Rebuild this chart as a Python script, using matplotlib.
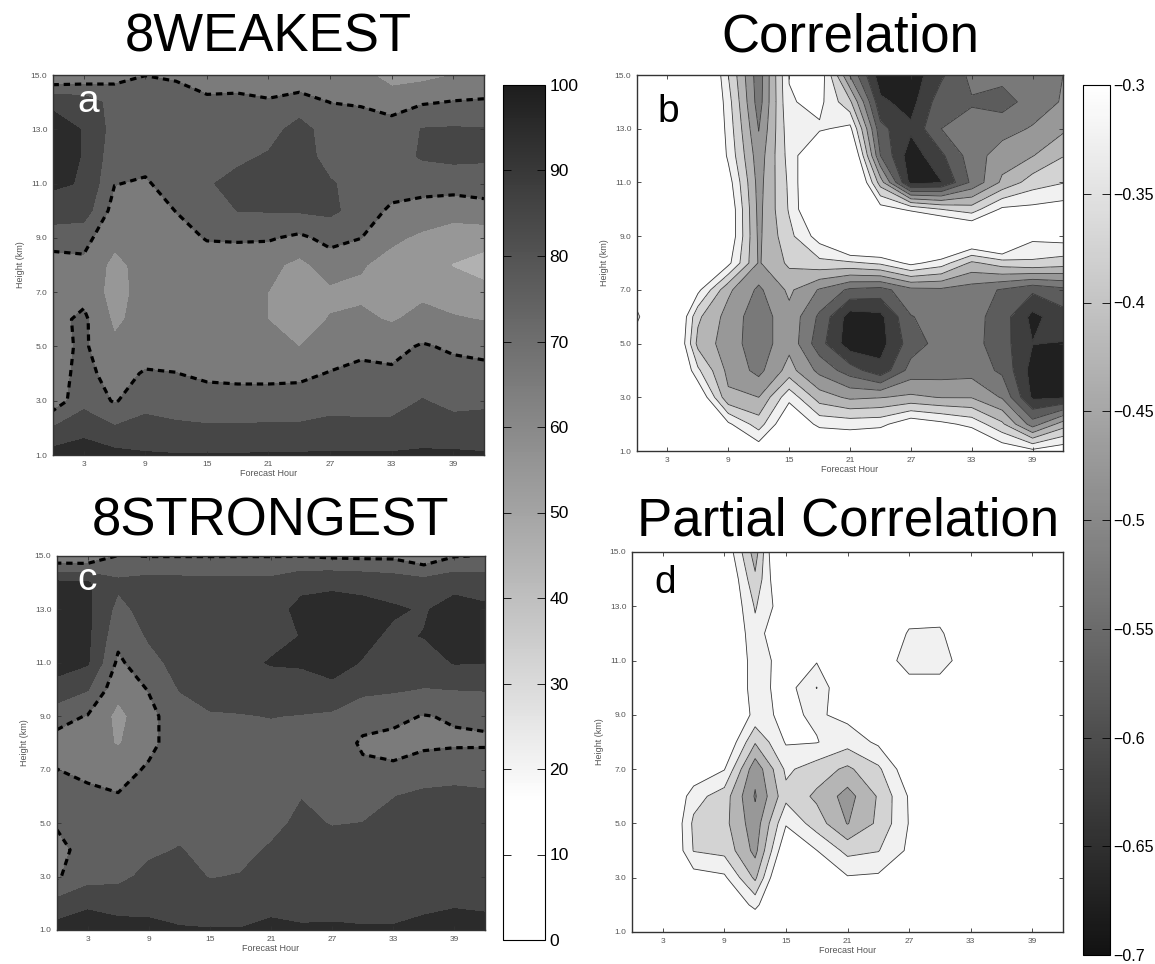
import numpy as np
import matplotlib
matplotlib.use('Agg')
import matplotlib.pyplot as plt
from matplotlib.colors import LinearSegmentedColormap, Normalize
from matplotlib.cm import ScalarMappable

plt.rcParams['font.family'] = ['Liberation Sans', 'DejaVu Sans']

# ---------------- data ----------------
hours = [0, 3, 6, 9, 12, 15, 18, 21, 24, 27, 30, 33, 36, 39, 42]
heights = [1, 2, 3, 4, 5, 6, 7, 8, 9, 10, 11, 12, 13, 14, 15]
x_ticks = [3, 9, 15, 21, 27, 33, 39]
y_ticks = [1, 3, 5, 7, 9, 11, 13, 15]
pct_ticks = [0, 10, 20, 30, 40, 50, 60, 70, 80, 90, 100]
cor_ticks = [-0.7, -0.65, -0.6, -0.55, -0.5, -0.45, -0.4, -0.35, -0.3]
titles = ["8WEAKEST", "Correlation", "8STRONGEST", "Partial Correlation"]
letters = ["a", "b", "c", "d"]

# one height profile (1..15 km) per forecast hour
weak_pct = [
    [94, 80.5, 64, 66, 67, 67, 66, 67, 73, 87, 91, 94, 94, 88, 60],
    [96, 86, 77, 73, 71.5, 72, 67, 68, 73, 85, 89.5, 89.5, 89.5, 86, 62],
    [93, 81, 69, 66, 62, 58, 56, 57, 63, 66, 70.3, 74, 76, 76, 67],
    [91, 83, 77, 71, 65, 64, 64, 64, 64, 66, 69, 73, 76, 78, 69.8],
    [90.5, 81.5, 76, 70.2, 66, 65, 64.5, 65, 67, 70.2, 74, 76, 77, 75, 68.5],
    [90.5, 81, 74.5, 68, 65, 64.5, 64.5, 66, 70.5, 74, 79, 77, 76, 72, 65],
    [90.5, 81, 74, 67.5, 64, 63, 63, 65, 71, 80.2, 83, 78, 76, 72, 66],
    [91, 81.5, 74, 67.5, 63, 59.9, 59.9, 63, 71, 80.5, 84, 81, 76, 71, 64],
    [91, 81.5, 74, 68, 59.9, 56, 55, 57, 68, 81, 85, 85, 84, 74, 63],
    [91, 83, 76, 70.5, 65, 60.5, 58, 65, 73, 82, 81, 76, 75, 69.9, 64],
    [91, 82.5, 76, 72, 68, 62, 58, 61, 70.2, 76, 76, 76, 75, 69, 64],
    [91, 83, 75.5, 71.5, 67, 59, 56, 56, 62, 68, 75, 76, 73, 67, 55],
    [91.5, 85, 80.5, 74, 71, 63, 58, 55, 58, 66, 74, 81, 80.5, 69, 57],
    [91.5, 84, 77, 73.5, 68.5, 61, 55, 49.5, 56, 63, 75, 82, 81, 70.5, 60],
    [91, 83, 78.5, 72, 68, 59.5, 53, 46, 54, 66, 75, 81.5, 80.5, 71, 63],
]

strong_pct = [
    [94, 83, 69, 67, 71, 73, 70.1, 67, 73, 87, 93, 95, 95, 92, 62],
    [96, 88, 76, 74, 74, 72, 68, 66, 69.5, 80.5, 91, 92, 92, 91, 62],
    [93, 87, 77, 75, 74, 70.5, 67, 59, 57, 63, 68, 73, 77, 82, 70.5],
    [93, 86.5, 83, 78, 76, 74, 71, 68, 67, 70.5, 77, 81, 84, 84, 69.7],
    [91, 85, 83, 80.5, 77, 76, 75, 74, 76, 80.3, 83, 85, 86, 83.5, 69.7],
    [90.5, 84, 79.6, 77, 75, 75, 75, 76, 79, 84, 86, 87, 87, 83, 69.7],
    [90.5, 84, 80.4, 77.5, 76, 75.5, 75.5, 76, 79.5, 84, 88, 88, 88, 83, 69.7],
    [92.5, 87, 84, 81, 77.5, 76, 76, 77.5, 80.2, 86, 90.5, 88, 87, 83, 69.7],
    [91, 87, 85, 84, 82, 79.7, 77, 77, 79.5, 86, 91, 90.2, 92, 88, 69.7],
    [91.5, 86.5, 86, 84, 79.5, 77, 76, 76, 78, 88, 93, 93, 92, 89, 68.5],
    [91, 86, 85.5, 84, 80.1, 76, 72, 68.5, 74, 82, 89.5, 92, 92, 88, 68],
    [91, 86, 85.5, 84.5, 82, 79.8, 71.5, 67, 72.5, 81, 86, 88.5, 91, 86, 68],
    [92.5, 88, 86.5, 85, 83, 82, 75, 68, 69.5, 79.5, 86, 90.3, 89.2, 84, 63],
    [94, 89, 87, 86, 84, 82, 77, 68.5, 71, 80.1, 90.5, 93, 93.5, 87, 69.5],
    [94, 88, 87, 86, 84, 81, 77.5, 68.5, 72, 80.5, 90.2, 93, 91.5, 86, 70.5],
]

corr = [
    [-0.15, -0.15, -0.15, -0.15, -0.25, -0.315, -0.25, -0.15, -0.15, -0.15, -0.15, -0.15, -0.15, -0.15, -0.15],
    [-0.15, -0.15, -0.15, -0.15, -0.15, -0.15, -0.15, -0.15, -0.15, -0.15, -0.15, -0.15, -0.15, -0.15, -0.15],
    [-0.10, -0.15, -0.24, -0.34, -0.415, -0.39, -0.285, -0.20, -0.15, -0.15, -0.15, -0.15, -0.15, -0.15, -0.15],
    [-0.225, -0.29, -0.44, -0.465, -0.475, -0.47, -0.44, -0.285, -0.25, -0.25, -0.275, -0.31, -0.32, -0.33, -0.35],
    [-0.26, -0.375, -0.45, -0.515, -0.53, -0.53, -0.51, -0.455, -0.46, -0.465, -0.47, -0.48, -0.502, -0.525, -0.53],
    [-0.15, -0.24, -0.315, -0.43, -0.465, -0.465, -0.44, -0.39, -0.365, -0.345, -0.34, -0.33, -0.32, -0.305, -0.2975],
    [-0.20, -0.315, -0.425, -0.515, -0.58, -0.56, -0.505, -0.365, -0.275, -0.20, -0.20, -0.225, -0.3075, -0.285, -0.26],
    [-0.225, -0.32, -0.46, -0.575, -0.68, -0.675, -0.56, -0.36, -0.15, -0.15, -0.15, -0.20, -0.285, -0.39, -0.505],
    [-0.20, -0.315, -0.4525, -0.635, -0.67, -0.665, -0.57, -0.34, -0.15, -0.275, -0.425, -0.55, -0.585, -0.64, -0.68],
    [-0.15, -0.26, -0.44, -0.53, -0.575, -0.5525, -0.515, -0.285, -0.15, -0.31, -0.67, -0.68, -0.64, -0.67, -0.68],
    [-0.175, -0.285, -0.4525, -0.525, -0.53, -0.53, -0.51, -0.325, -0.15, -0.35, -0.6525, -0.61, -0.55, -0.57, -0.61],
    [-0.20, -0.315, -0.4525, -0.52, -0.53, -0.53, -0.525, -0.41, -0.20, -0.375, -0.54, -0.525, -0.53, -0.555, -0.535],
    [-0.26, -0.39, -0.505, -0.56, -0.58, -0.575, -0.555, -0.375, -0.15, -0.29, -0.44, -0.475, -0.52, -0.57, -0.535],
    [-0.285, -0.525, -0.66, -0.67, -0.649, -0.665, -0.59, -0.36, -0.285, -0.285, -0.375, -0.4525, -0.495, -0.53, -0.525],
    [-0.26, -0.425, -0.66, -0.675, -0.6525, -0.62, -0.565, -0.375, -0.275, -0.275, -0.3525, -0.4025, -0.46, -0.495, -0.5],
]

pcorr = [
    [-0.2] * 15,
    [-0.2] * 15,
    [-0.2, -0.2, -0.275, -0.3525, -0.36, -0.33, -0.25, -0.2, -0.2, -0.2, -0.2, -0.2, -0.2, -0.2, -0.2],
    [-0.2, -0.24, -0.29, -0.365, -0.385, -0.375, -0.2975, -0.24, -0.225, -0.225, -0.225, -0.225, -0.225, -0.225, -0.25],
    [-0.225, -0.315, -0.41, -0.465, -0.48, -0.505, -0.485, -0.395, -0.315, -0.325, -0.325, -0.335, -0.355, -0.39, -0.425],
    [-0.2, -0.2, -0.19, -0.25, -0.305, -0.365, -0.34, -0.295, -0.29, -0.275, -0.2775, -0.22, -0.26, -0.21, -0.15],
    [-0.2, -0.2, -0.24, -0.299, -0.375, -0.41, -0.375, -0.2975, -0.3075, -0.3515, -0.295, -0.2, -0.2, -0.2, -0.2],
    [-0.2, -0.225, -0.295, -0.365, -0.4525, -0.47, -0.41, -0.33, -0.285, -0.225, -0.225, -0.225, -0.225, -0.225, -0.225],
    [-0.2, -0.2, -0.29, -0.3525, -0.39, -0.395, -0.36, -0.29, -0.225, -0.25, -0.27, -0.25, -0.225, -0.2, -0.2],
    [-0.2, -0.2, -0.225, -0.29, -0.2975, -0.295, -0.26, -0.225, -0.225, -0.28, -0.32, -0.305, -0.275, -0.2, -0.2],
    [-0.2, -0.2, -0.2, -0.2, -0.2, -0.2, -0.2, -0.2, -0.2, -0.28, -0.32, -0.3075, -0.275, -0.2, -0.2],
    [-0.2, -0.2, -0.2, -0.2, -0.2, -0.2, -0.2, -0.2, -0.2, -0.25, -0.27, -0.25, -0.2, -0.2, -0.2],
    [-0.2] * 15,
    [-0.2] * 15,
    [-0.2] * 15,
]

# ---------------- figure ----------------
fig = plt.figure(figsize=(11.55, 9.64), dpi=100)

cmap_pct = LinearSegmentedColormap.from_list(
    'pct', [(0.0, '#ffffff'), (0.16, '#ffffff'), (1.0, '#1e1e1e')])
cmap_cor = LinearSegmentedColormap.from_list('cor', [(0.0, '#121212'), (1.0, '#ffffff')])
norm_pct = Normalize(0, 100)
norm_cor = Normalize(-0.7, -0.3)

X, Y = np.meshgrid(hours, heights)

rects = [
    [53 / 1155, 1 - 455 / 964, 431 / 1155, 380 / 964],
    [637 / 1155, 1 - 451 / 964, 426 / 1155, 376 / 964],
    [57 / 1155, 1 - 930 / 964, 428 / 1155, 374 / 964],
    [632 / 1155, 1 - 932 / 964, 431 / 1155, 380 / 964],
]
letter_pos = [(0.056, 0.903, 'white'), (0.047, 0.875, 'black'),
              (0.047, 0.909, 'white'), (0.053, 0.892, 'black')]


def style(ax):
    ax.set_xlim(0, 42)
    ax.set_ylim(1, 15)
    ax.set_xticks(x_ticks)
    ax.set_yticks(y_ticks)
    ax.set_yticklabels([f"{v:.1f}" for v in y_ticks])
    ax.tick_params(direction='in', length=3, width=0.6, top=True, right=True,
                   labelsize=6, labelcolor='#555555', color='#333333', pad=4)
    ax.set_xlabel('Forecast Hour', fontsize=6.5, color='#555555', labelpad=1)
    ax.set_ylabel('Height (km)', fontsize=6.5, color='#555555', labelpad=4)
    for s in ax.spines.values():
        s.set_linewidth(1.0)
        s.set_color('#333333')


datasets = [weak_pct, corr, strong_pct, pcorr]
for k in range(4):
    ax = fig.add_axes(rects[k])
    Z = np.array(datasets[k], dtype=float).T
    if k in (0, 2):
        ax.contourf(X, Y, Z, levels=pct_ticks, cmap=cmap_pct, norm=norm_pct)
        cs = ax.contour(X, Y, Z, levels=[70], colors='black', linewidths=2.3)
        cs.set_linestyle((0, (2.0, 1.5)))
    else:
        ax.contourf(X, Y, Z, levels=cor_ticks, cmap=cmap_cor, norm=norm_cor)
        ax.contour(X, Y, Z, levels=cor_ticks, colors='#3a3a3a', linewidths=0.6,
                   linestyles='solid')
    style(ax)
    lx, ly, lc = letter_pos[k]
    ax.text(lx, ly, letters[k], transform=ax.transAxes, fontsize=28,
            color=lc, va='baseline', ha='left')
    pos = ax.get_position()
    cx = pos.x0 + pos.width / 2
    ty = 1 - 51 / 964 if k < 2 else 1 - 535 / 964
    fig.text(cx, ty, titles[k], fontsize=38, ha='center', va='baseline')

# colorbars
cax1 = fig.add_axes([503 / 1155, 1 - 940 / 964, 42 / 1155, 855 / 964])
cb1 = fig.colorbar(ScalarMappable(norm=norm_pct, cmap=cmap_pct), cax=cax1, ticks=pct_ticks)
cb1.ax.tick_params(direction='in', length=6, width=0.6, left=True, right=True,
                   labelsize=12.5, pad=3)
cb1.outline.set_linewidth(0.8)

cax2 = fig.add_axes([1083 / 1155, 1 - 955 / 964, 27 / 1155, 870 / 964])
cb2 = fig.colorbar(ScalarMappable(norm=norm_cor, cmap=cmap_cor), cax=cax2, ticks=cor_ticks)
cb2.ax.set_yticklabels([('\u2212' + f"{abs(v):g}") for v in cor_ticks])
cb2.ax.tick_params(direction='in', length=6, width=0.6, left=True, right=True,
                   labelsize=11.5, pad=2)
cb2.outline.set_linewidth(0.8)

fig.savefig('out.png', dpi=100)
